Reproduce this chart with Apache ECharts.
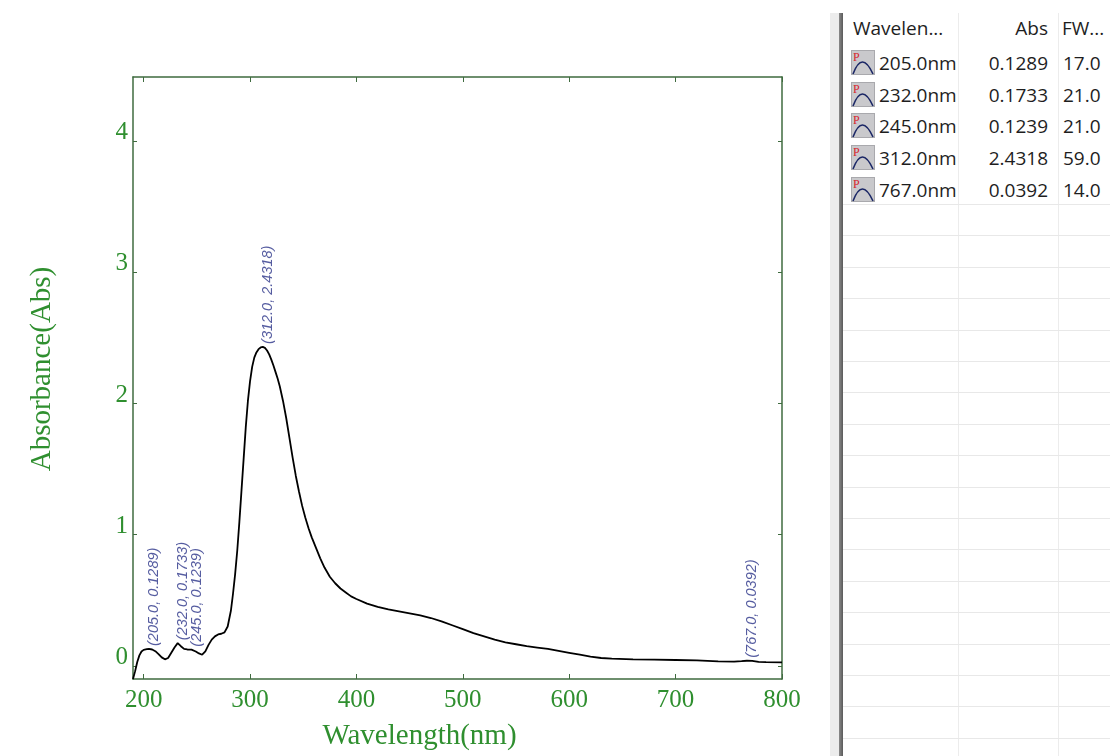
<!DOCTYPE html>
<html>
<head>
<meta charset="utf-8">
<script src="https://cdn.jsdelivr.net/npm/echarts@6/dist/echarts.min.js"></script>
<style>
  html, body { margin: 0; padding: 0; background: #fff; }
  #chart { position: absolute; left: 0; top: 0; width: 1110px; height: 756px; }
  #panel { position: absolute; left: 830px; top: 0; width: 280px; height: 756px; overflow: hidden; background: #fff;
    font-family: "Open Sans", "Noto Sans", sans-serif; font-size: 19px; color: #1e1e1e; }
  .strip { position: absolute; left: 0; top: 13px; width: 9px; bottom: 0; background: #ececec; }
  .edge { position: absolute; left: 9px; top: 13px; width: 4px; bottom: 0; background: linear-gradient(90deg, #8a8a8a, #5a5a5a); }
  .vline { position: absolute; top: 13px; bottom: 0; width: 1px; background: #ececec; }
  .hline { position: absolute; left: 13px; right: 0; height: 1px; background: #e8e8e8; }
  .cell { position: absolute; white-space: nowrap; line-height: 24px; }
  .icon { position: absolute; width: 24px; height: 25px; }
</style>
</head>
<body>
<div id="chart"></div>
<div id="panel"></div>
<script>
// spectrum
const wavelength = [190, 192, 194, 196, 198, 200, 203, 205, 208, 211, 214, 217, 220, 223, 226, 229, 232, 235, 238, 241,
  245, 249, 252, 255, 258, 261, 264, 267, 270, 273, 276, 279, 282, 284, 286, 288, 290, 292, 294, 296,
  298, 300, 302, 304, 306, 308, 310, 312, 314, 316, 318, 320, 322, 324, 326, 328, 331, 334, 337, 340,
  343, 346, 349, 352, 355, 358, 362, 366, 370, 375, 380, 385, 390, 395, 400, 410, 420, 430, 440, 450,
  460, 470, 480, 490, 500, 510, 520, 530, 540, 550, 560, 570, 580, 590, 600, 610, 620, 630, 640, 660,
  680, 700, 720, 740, 755, 762, 767, 772, 778, 785, 800];
const absorbance = [-0.10, -0.04, 0.03, 0.08, 0.11, 0.122, 0.127, 0.1289, 0.125, 0.112, 0.09, 0.065, 0.05, 0.06, 0.10, 0.14, 0.1733, 0.15, 0.13, 0.125,
  0.1239, 0.11, 0.095, 0.085, 0.11, 0.16, 0.20, 0.225, 0.24, 0.245, 0.255, 0.30, 0.42, 0.55, 0.70, 0.88, 1.10, 1.34, 1.58, 1.82,
  2.02, 2.17, 2.28, 2.35, 2.39, 2.415, 2.428, 2.4318, 2.425, 2.405, 2.375, 2.335, 2.29, 2.24, 2.19, 2.13, 2.02, 1.89, 1.74, 1.59,
  1.45, 1.33, 1.22, 1.13, 1.05, 0.98, 0.90, 0.82, 0.75, 0.68, 0.63, 0.59, 0.56, 0.53, 0.51, 0.475, 0.45, 0.43, 0.415, 0.40,
  0.385, 0.365, 0.34, 0.31, 0.28, 0.25, 0.225, 0.20, 0.18, 0.165, 0.15, 0.14, 0.13, 0.115, 0.10, 0.085, 0.07, 0.06, 0.055, 0.05,
  0.048, 0.045, 0.042, 0.035, 0.032, 0.036, 0.0392, 0.038, 0.03, 0.028, 0.027];

// picked peaks
const peakWl = [205.0, 232.0, 245.0, 312.0, 767.0];
const peakAbs = [0.1289, 0.1733, 0.1239, 2.4318, 0.0392];
const peakFw = [17.0, 21.0, 21.0, 59.0, 14.0];

const xTicks = [200, 300, 400, 500, 600, 700, 800];
const yTicks = [0, 1, 2, 3, 4];

const frame = "#3f6b3f";
const green = "#2f8f2f";
const serif = "Liberation Serif, serif";

const chart = echarts.init(document.querySelector("#chart"));

function xAxis(position, labels) {
  return {
    type: "value", position, min: 190, max: 800,
    axisLine: { show: true, onZero: false, lineStyle: { color: frame, width: 1.5 } },
    axisTick: { show: true, inside: true, length: 5, customValues: xTicks, lineStyle: { color: frame } },
    axisLabel: { show: labels, customValues: xTicks, margin: 9, color: green, fontFamily: serif, fontSize: 25 },
    splitLine: { show: false },
  };
}

function yAxis(position, labels) {
  return {
    type: "value", position, min: -0.1, max: 4.49,
    axisLine: { show: true, onZero: false, lineStyle: { color: frame, width: 1.5 } },
    axisTick: { show: true, inside: true, length: 4, customValues: yTicks, lineStyle: { color: frame } },
    axisLabel: { show: labels, customValues: yTicks, margin: 5, color: green, fontFamily: serif, fontSize: 25,
      verticalAlign: "bottom", lineHeight: 17 },
    splitLine: { show: false },
  };
}

const bottomX = xAxis("bottom", true);
bottomX.name = "Wavelength(nm)";
bottomX.nameLocation = "middle";
bottomX.nameGap = 43;
bottomX.nameTextStyle = { color: green, fontFamily: serif, fontSize: 29, padding: [0, 76, 0, 0] };

const leftY = yAxis("left", true);
leftY.name = "Absorbance(Abs)";
leftY.nameLocation = "middle";
leftY.nameGap = 76;
leftY.nameRotate = 90;
leftY.nameTextStyle = { color: green, fontFamily: serif, fontSize: 29, padding: [0, 0, 0, 18] };

chart.setOption({
  animation: false,
  backgroundColor: "#fff",
  grid: { left: 133, right: 328, top: 77, bottom: 77 },
  xAxis: [bottomX, xAxis("top", false)],
  yAxis: [leftY, yAxis("right", false)],
  series: [
    {
      type: "line",
      data: wavelength.map((w, i) => [w, absorbance[i]]),
      showSymbol: false,
      lineStyle: { color: "#000", width: 1.8 },
      z: 3,
    },
    {
      type: "scatter",
      data: peakWl.map((w, i) => [w, peakAbs[i]]),
      symbolSize: 0,
      silent: true,
      label: {
        show: true,
        position: [5, -3],
        rotate: 90,
        align: "left",
        verticalAlign: "middle",
        color: "#2a3388",
        fontStyle: "italic",
        fontFamily: "Liberation Sans, sans-serif",
        fontSize: 14.5,
        formatter: (p) => `(${p.value[0].toFixed(1)}, ${p.value[1].toFixed(4)})`,
      },
      z: 4,
    },
  ],
});

// peak table on the right
function icon() {
  return `<svg width="24" height="25" viewBox="0 0 24 25">
    <rect x="0.5" y="0.5" width="23" height="24" fill="#c9c9cc" stroke="#a9a9ad"/>
    <text x="2" y="11" font-family="Liberation Serif, serif" font-size="12" fill="#d8262c">P</text>
    <path d="M2 24 Q11 0 22 24" fill="none" stroke="#1b2766" stroke-width="1.6"/>
  </svg>`;
}

const panel = document.querySelector("#panel");
let html = `<div class="strip"></div><div class="edge"></div>
  <div class="vline" style="left:128px"></div><div class="vline" style="left:228px"></div>`;
for (let y = 204; y < 756; y += 31.4) html += `<div class="hline" style="top:${Math.round(y)}px"></div>`;
html += `<div class="cell" style="left:23px;top:16px">Wavelen...</div>
  <div class="cell" style="right:62px;top:16px">Abs</div>
  <div class="cell" style="left:232px;top:16px">FW...</div>`;
peakWl.forEach((w, i) => {
  const top = 51 + i * 31.7;
  html += `<div class="icon" style="left:21px;top:${top - 1}px">${icon()}</div>
    <div class="cell" style="left:49px;top:${top}px">${w.toFixed(1)}nm</div>
    <div class="cell" style="right:62px;top:${top}px">${peakAbs[i].toFixed(4)}</div>
    <div class="cell" style="left:233px;top:${top}px">${peakFw[i].toFixed(1)}</div>`;
});
panel.innerHTML = html;
</script>
</body>
</html>
